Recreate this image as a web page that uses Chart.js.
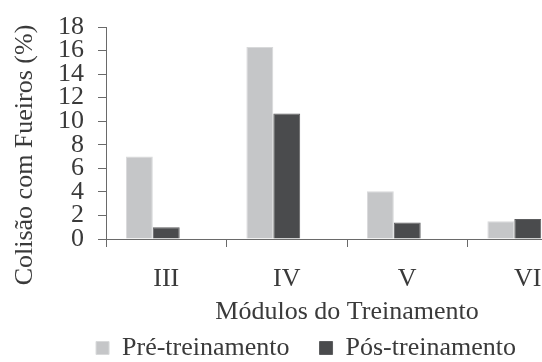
<!DOCTYPE html>
<html>
<head>
<meta charset="utf-8">
<script src="https://cdn.jsdelivr.net/npm/chart.js@4/dist/chart.umd.min.js"></script>
<style>
  html, body { margin: 0; padding: 0; background: #fff; overflow: hidden; }
  #wrap { width: 612px; height: 362px; }
</style>
</head>
<body>
<div id="wrap"><canvas id="grafico" width="612" height="362"></canvas></div>
<script>
// dados
const modulos = ['III', 'IV', 'V', 'VI'];
const preTreino = [7.0, 16.3, 4.05, 1.5];
const posTreino = [1.0, 10.65, 1.4, 1.7];
const ticksY = [0, 2, 4, 6, 8, 10, 12, 14, 16, 18];

const tituloY = 'Colisão com Fueiros (%)';
const tituloX = 'Módulos do Treinamento';

const fonte = "'Liberation Serif', 'DejaVu Serif', 'Times New Roman', serif";
const corEixo = '#6a6a6a';
const corTexto = '#3a3a3a';

// título do eixo y desenhado à parte (no original não fica centrado no eixo)
const pluginTituloY = {
    id: 'tituloY',
    afterDraw(chart) {
        const ctx = chart.ctx;
        ctx.save();
        ctx.translate(25, 155);
        ctx.rotate(-Math.PI / 2);
        ctx.font = '26px ' + fonte;
        ctx.fillStyle = corTexto;
        ctx.textAlign = 'center';
        ctx.textBaseline = 'middle';
        ctx.fillText(tituloY, 0, 0);
        ctx.restore();
    }
};

function desenha() {
    const ctx = document.getElementById('grafico').getContext('2d');
    new Chart(ctx, {
        type: 'bar',
        data: {
            labels: modulos,
            datasets: [{
                label: 'Pré-treinamento',
                data: preTreino,
                backgroundColor: '#c5c6c8',
                borderColor: '#d8d9da',
                borderWidth: 1,
            }, {
                label: 'Pós-treinamento',
                data: posTreino,
                backgroundColor: '#4a4b4d',
                borderColor: '#5c5d5f',
                borderWidth: 1,
            }, {
                // série vazia, só para ocupar o terceiro lugar do grupo (como no Excel)
                label: '',
                data: [],
                backgroundColor: 'rgba(0,0,0,0)',
            }]
        },
        options: {
            responsive: false,
            animation: false,
            devicePixelRatio: 1,
            // valores negativos para encaixar legenda e título como no original
            layout: { padding: { left: 24, right: 24, top: 19, bottom: -9 } },
            datasets: {
                bar: { categoryPercentage: 0.67, barPercentage: 1 }
            },
            scales: {
                x: {
                    grid: {
                        offset: true,
                        drawOnChartArea: false,
                        color: corEixo,
                        tickLength: 8,
                    },
                    border: { color: corEixo, width: 1 },
                    ticks: {
                        font: { family: fonte, size: 26, lineHeight: 1 },
                        color: corTexto,
                        padding: 19,
                        maxRotation: 0,
                    },
                    title: {
                        display: true,
                        text: tituloX,
                        font: { family: fonte, size: 26, lineHeight: 1 },
                        color: corTexto,
                        padding: { top: -12, bottom: -20 },
                    }
                },
                y: {
                    min: 0,
                    max: 18,
                    afterBuildTicks: (eixo) => { eixo.ticks = ticksY.map(v => ({ value: v })); },
                    // espaço extra à esquerda para o título do eixo y
                    afterFit: (eixo) => { eixo.width += 20; },
                    grid: {
                        drawOnChartArea: false,
                        color: corEixo,
                        tickLength: 8,
                    },
                    border: { color: corEixo, width: 1 },
                    ticks: {
                        autoSkip: false,
                        font: { family: fonte, size: 26, lineHeight: 1 },
                        color: corTexto,
                        padding: 14,
                    }
                }
            },
            plugins: {
                tooltip: { enabled: false },
                legend: {
                    position: 'bottom',
                    labels: {
                        filter: (item) => item.text !== '',
                        boxWidth: 13,
                        boxHeight: 13,
                        padding: 30,
                        font: { family: fonte, size: 26, lineHeight: 1 },
                        color: corTexto,
                    }
                }
            }
        },
        plugins: [pluginTituloY]
    });
}

document.fonts.load("26px 'Liberation Serif'").then(desenha, desenha);
</script>
</body>
</html>
